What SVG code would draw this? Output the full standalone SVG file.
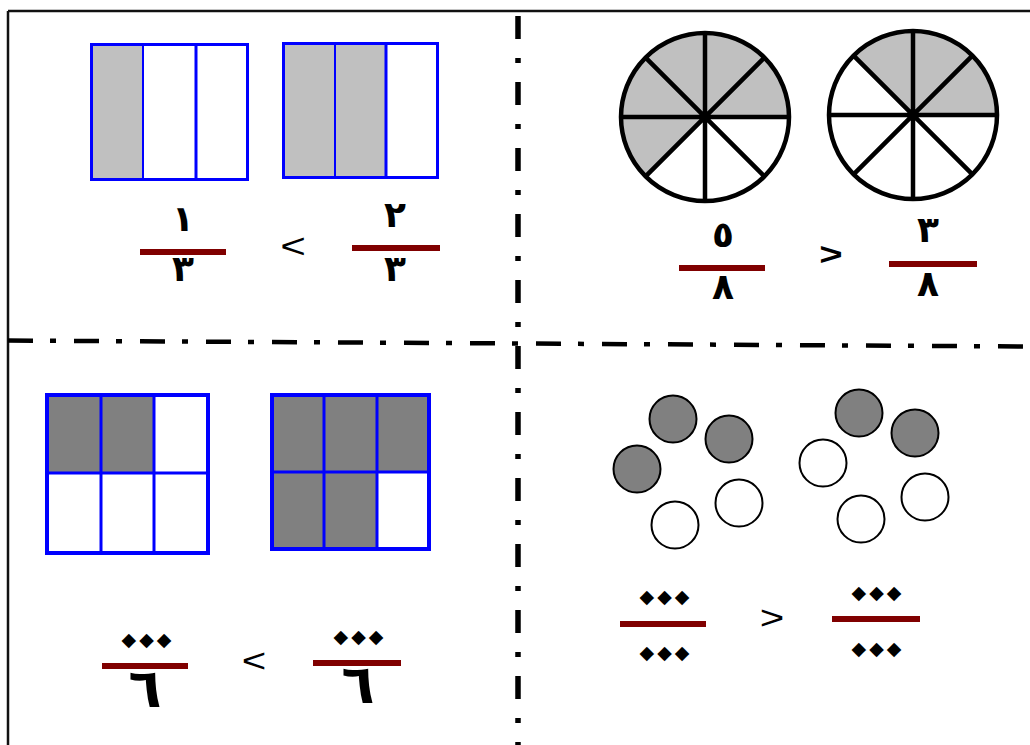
<svg xmlns="http://www.w3.org/2000/svg" width="1030" height="745" viewBox="0 0 1030 745">
<style>
.frame{stroke:#111;stroke-width:2.5;fill:none}
.div{stroke:#000;fill:none}
.grid{stroke:#0000ff;fill:none}
.cellL{fill:#c0c0c0}
.cellD{fill:#808080}
.pie{stroke:#000;stroke-width:4.5;fill:none}
.wedge{fill:#c0c0c0}
.dot{stroke:#000;stroke-width:2}
.bar{fill:#800000}
.dig{font-family:"DejaVu Sans",sans-serif;font-weight:bold;fill:#000;text-anchor:middle}
.dia{font-family:"DejaVu Sans",sans-serif;fill:#000;text-anchor:middle;font-size:19px;letter-spacing:3px}
.cmp{font-family:"Liberation Sans",Arial,sans-serif;fill:#000;text-anchor:middle}
</style>
<rect width="1030" height="745" fill="#fff"/>
<g id="frame">
<line class="frame" x1="8" y1="11" x2="1030" y2="11"/>
<line class="frame" x1="8" y1="11" x2="8" y2="745"/>
</g>
<g id="dividers">
<line class="div" x1="518" y1="16" x2="518" y2="745" stroke-width="5.5" stroke-dasharray="23 19 5 19"/>
<line class="div" x1="8" y1="340.5" x2="1030" y2="346.5" stroke-width="4.5" stroke-dasharray="25 17 6 18"/>
</g>
<g id="tl-left">
<rect class="cellL" x="91.5" y="44.5" width="51.5" height="135"/>
<rect class="grid" x="91.5" y="44.5" width="156" height="135" stroke-width="3"/>
<line class="grid" x1="143" y1="44.5" x2="143" y2="179.5" stroke-width="2"/>
<line class="grid" x1="196" y1="44.5" x2="196" y2="179.5" stroke-width="3"/>
</g>
<g id="tl-right">
<rect class="cellL" x="283.5" y="43.5" width="103" height="134"/>
<rect class="grid" x="283.5" y="43.5" width="154" height="134" stroke-width="3"/>
<line class="grid" x1="335" y1="43.5" x2="335" y2="177.5" stroke-width="2"/>
<line class="grid" x1="386" y1="43.5" x2="386" y2="177.5" stroke-width="3"/>
</g>
<g id="tl-frac-left">
<text class="dig" x="183" y="231" font-size="36">١</text>
<rect class="bar" x="140" y="249" width="86" height="6"/>
<text class="dig" x="183" y="281" font-size="36">٣</text>
</g>
<text id="tl-cmp" class="cmp" x="293" y="259" font-size="44" transform="translate(0,51) scale(1,0.8)">&lt;</text>
<g id="tl-frac-right">
<text class="dig" x="395" y="227" font-size="36">٢</text>
<rect class="bar" x="352" y="245" width="88" height="6"/>
<text class="dig" x="395" y="281" font-size="36">٣</text>
</g>
<g id="tr-pie-left">
<path class="wedge" d="M705,117 L789,117 A84,84 0 1 0 645.6,176.4 Z"/>
<circle class="pie" cx="705" cy="117" r="84"/>
<path class="pie" d="M621,117 H789 M705,33 V201 M645.6,57.6 L764.4,176.4 M645.6,176.4 L764.4,57.6"/>
</g>
<g id="tr-pie-right">
<path class="wedge" d="M913,115 L997,115 A84,84 0 0 0 853.6,55.6 Z"/>
<circle class="pie" cx="913" cy="115" r="84"/>
<path class="pie" d="M829,115 H997 M913,31 V199 M853.6,55.6 L972.4,174.4 M853.6,174.4 L972.4,55.6"/>
</g>
<g id="tr-frac-left">
<text class="dig" x="723" y="247" font-size="36">٥</text>
<rect class="bar" x="679" y="265" width="86" height="6"/>
<text class="dig" x="723" y="299" font-size="36">٨</text>
</g>
<text id="tr-cmp" class="cmp" x="831" y="265" font-size="40" font-weight="bold" transform="translate(0,53) scale(1,0.8)">&gt;</text>
<g id="tr-frac-right">
<text class="dig" x="928" y="242" font-size="36">٣</text>
<rect class="bar" x="889" y="261" width="88" height="6"/>
<text class="dig" x="928" y="296" font-size="36">٨</text>
</g>
<g id="bl-left">
<rect class="cellD" x="47" y="395" width="107" height="78"/>
<rect class="grid" x="47" y="395" width="161" height="158" stroke-width="4"/>
<line class="grid" x1="101" y1="395" x2="101" y2="553" stroke-width="3"/>
<line class="grid" x1="154" y1="395" x2="154" y2="553" stroke-width="3"/>
<line class="grid" x1="47" y1="473" x2="208" y2="473" stroke-width="3"/>
</g>
<g id="bl-right">
<rect class="cellD" x="272" y="395" width="157" height="77"/>
<rect class="cellD" x="272" y="472" width="105" height="77"/>
<rect class="grid" x="272" y="395" width="157" height="154" stroke-width="4"/>
<line class="grid" x1="324" y1="395" x2="324" y2="549" stroke-width="3"/>
<line class="grid" x1="377" y1="395" x2="377" y2="549" stroke-width="3"/>
<line class="grid" x1="272" y1="472" x2="429" y2="472" stroke-width="3"/>
</g>
<g id="bl-frac-left">
<text class="dia" x="148" y="646">◆◆◆</text>
<rect class="bar" x="102" y="663" width="86" height="6"/>
<text class="dig" x="145" y="707" font-size="54">٦</text>
</g>
<text id="bl-cmp" class="cmp" x="254" y="672" font-size="42" transform="translate(0,134) scale(1,0.8)">&lt;</text>
<g id="bl-frac-right">
<text class="dia" x="360" y="643">◆◆◆</text>
<rect class="bar" x="313" y="660" width="88" height="6"/>
<text class="dig" x="358" y="703" font-size="54">٦</text>
</g>
<g id="br-left">
<circle class="dot cellD" cx="673" cy="419" r="23.5"/>
<circle class="dot cellD" cx="729" cy="439" r="23.5"/>
<circle class="dot cellD" cx="637" cy="469" r="23.5"/>
<circle class="dot" fill="#fff" cx="739" cy="503" r="23.5"/>
<circle class="dot" fill="#fff" cx="675" cy="525" r="23.5"/>
</g>
<g id="br-right">
<circle class="dot cellD" cx="859" cy="413" r="23.5"/>
<circle class="dot cellD" cx="915" cy="433" r="23.5"/>
<circle class="dot" fill="#fff" cx="823" cy="463" r="23.5"/>
<circle class="dot" fill="#fff" cx="925" cy="497" r="23.5"/>
<circle class="dot" fill="#fff" cx="861" cy="519" r="23.5"/>
</g>
<g id="br-frac-left">
<text class="dia" x="666" y="603">◆◆◆</text>
<rect class="bar" x="620" y="621" width="86" height="6"/>
<text class="dia" x="666" y="659">◆◆◆</text>
</g>
<text id="br-cmp" class="cmp" x="772" y="629" font-size="42" transform="translate(0,126) scale(1,0.8)">&gt;</text>
<g id="br-frac-right">
<text class="dia" x="878" y="599">◆◆◆</text>
<rect class="bar" x="832" y="616" width="88" height="6"/>
<text class="dia" x="878" y="655">◆◆◆</text>
</g>
</svg>
